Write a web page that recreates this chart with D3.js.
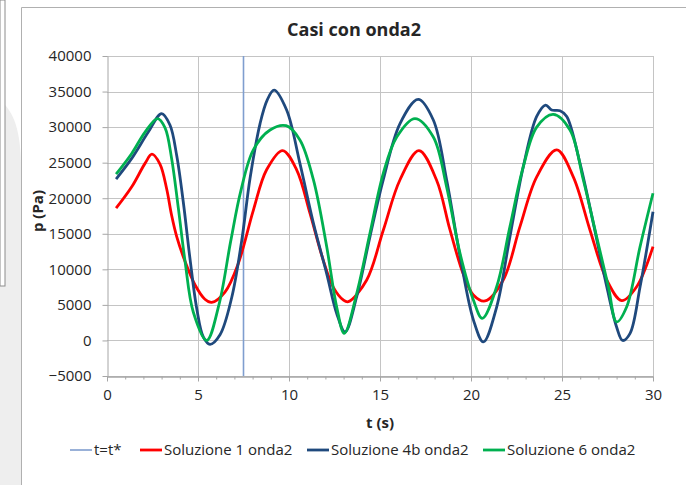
<!DOCTYPE html>
<html lang="it">

<head>
    <meta charset="UTF-8">
    <title>Casi con onda2</title>
    <script src="https://cdn.jsdelivr.net/npm/d3@7/dist/d3.min.js"></script>
    <style>
        body { margin: 0; background: #fff; }
        text { font-family: "Open Sans", "Liberation Sans", sans-serif; fill: #262626; }
    </style>
</head>

<body>
    <div id="container"></div>

    <script>
        const width = 686;
        const height = 485;
        const margin = { top: 56, left: 107, right: 33, bottom: 109 };

        // dati: t (s), p (Pa)
        const tStar = 7.5;

        const t1 = [0.5, 1.36, 2.09, 2.47, 2.91, 3.28, 3.55, 3.83, 4.29, 4.84, 5.38, 5.75, 6.48, 7.21, 8.04, 8.77, 9.65, 10.42, 11.15, 11.88, 12.43, 12.98, 13.26, 14.27, 15.18, 16.1, 17.14, 18.1, 18.85, 19.58, 20.13, 20.77, 21.77, 22.69, 23.61, 24.71, 25.62, 26.54, 27.46, 28.28, 29.1, 30.0];
        const p1 = [18600, 21600, 24900, 26200, 24800, 21300, 17600, 14600, 11100, 7800, 5800, 5350, 6800, 10800, 18300, 24000, 26700, 24000, 17900, 11300, 7500, 5700, 5450, 8500, 15500, 22600, 26700, 22600, 15500, 9300, 6400, 5550, 8500, 16000, 23000, 26800, 23000, 15500, 8500, 5600, 7550, 13200];

        const t4b = [0.5, 1.36, 2.27, 3.0, 3.46, 3.83, 4.19, 4.56, 4.93, 5.29, 5.66, 6.21, 6.85, 7.4, 7.86, 8.41, 8.8, 9.18, 9.87, 10.6, 11.34, 12.07, 12.62, 13.08, 13.72, 14.45, 15.18, 16.1, 17.1, 17.93, 18.66, 19.4, 20.13, 20.68, 21.41, 22.14, 22.87, 23.61, 24.1, 24.43, 24.89, 25.26, 25.99, 26.72, 27.46, 28.0, 28.33, 28.74, 29.29, 30.0];
        const p4b = [22700, 25600, 29300, 31900, 30300, 26000, 19500, 11500, 4500, 500, -550, 800, 6000, 14000, 22800, 30500, 33800, 35200, 32400, 24900, 16500, 9400, 3800, 1200, 6150, 14600, 22600, 30500, 33900, 31000, 22600, 11800, 2900, -200, 4700, 14600, 24400, 31500, 33100, 32400, 32300, 31500, 24900, 16500, 7550, 1900, 0, 1000, 7550, 18100];

        const t6 = [0.5, 1.36, 2.09, 2.78, 3.19, 3.55, 3.92, 4.29, 4.74, 5.48, 6.15, 6.8, 7.35, 8.04, 8.96, 9.84, 10.6, 11.34, 12.07, 12.62, 13.04, 13.72, 14.45, 15.18, 15.92, 16.92, 17.93, 18.66, 19.4, 20.13, 20.62, 21.41, 22.14, 22.87, 23.61, 24.52, 25.44, 26.17, 26.9, 27.55, 28.0, 28.55, 29.29, 30.0];
        const p6 = [23400, 26300, 29300, 31200, 29900, 25600, 18600, 11100, 4000, 0, 5000, 14000, 21000, 26800, 29600, 30200, 28200, 22600, 13200, 4700, 1000, 6600, 15100, 23500, 28600, 31200, 28600, 21600, 12200, 5700, 3100, 7550, 16000, 24400, 30000, 31800, 29600, 22600, 14600, 7550, 2600, 4700, 13200, 20700];

        const xTicks = [0, 5, 10, 15, 20, 25, 30];
        const yTicks = [-5000, 0, 5000, 10000, 15000, 20000, 25000, 30000, 35000, 40000];

        const series = [
            { name: 'Soluzione 1 onda2', t: t1, p: p1, color: '#ff0000' },
            { name: 'Soluzione 4b onda2', t: t4b, p: p4b, color: '#1f497d' },
            { name: 'Soluzione 6 onda2', t: t6, p: p6, color: '#00b050' }
        ];

        const x = d3.scaleLinear().domain([0, 30]).range([margin.left, width - margin.right]);
        const y = d3.scaleLinear().domain([-5000, 40000]).range([height - margin.bottom, margin.top]);

        const svg = d3.select('#container').append('svg')
            .attr('width', width)
            .attr('height', height);

        // sfondo della slide
        svg.append('path')
            .attr('d', 'M0,100 C14,112 21,130 21,170 L21,485 L0,485 Z')
            .attr('fill', '#eeeeee');
        svg.append('rect')
            .attr('x', 0).attr('y', 0).attr('width', 5).attr('height', 286)
            .attr('fill', '#fff').attr('stroke', '#8c8c8c');
        svg.append('path')
            .attr('d', 'M21.5,485 V7.5 H686')
            .attr('fill', 'none').attr('stroke', '#b0b0b0');
        svg.append('rect')
            .attr('x', 22).attr('y', 8).attr('width', 664).attr('height', 477)
            .attr('fill', '#fff');

        // titolo
        svg.append('text')
            .attr('x', 354).attr('y', 36)
            .attr('text-anchor', 'middle')
            .style('font-size', '18px').style('font-weight', 'bold')
            .text('Casi con onda2');

        // griglia
        const grid = svg.append('g').attr('stroke', '#c4c4c4').attr('stroke-width', 1);
        grid.selectAll('.h').data(yTicks).join('line')
            .attr('x1', x(0)).attr('x2', x(30))
            .attr('y1', d => Math.round(y(d)) + 0.5).attr('y2', d => Math.round(y(d)) + 0.5);
        grid.selectAll('.v').data(xTicks.slice(1)).join('line')
            .attr('x1', d => Math.round(x(d)) + 0.5).attr('x2', d => Math.round(x(d)) + 0.5)
            .attr('y1', y(40000)).attr('y2', y(-5000));

        function styleAxis(g) {
            g.select('.domain').attr('stroke', '#a6a6a6');
            g.selectAll('.tick line').attr('stroke', '#a6a6a6');
            g.selectAll('.tick text').style('font-size', '15px').attr('fill', '#262626')
                .style('font-family', '"Open Sans", sans-serif');
        }

        // asse x
        svg.append('g')
            .attr('transform', `translate(0, ${Math.round(y(-5000)) + 0.5})`)
            .call(d3.axisBottom(x).ticks(30).tickSize(3).tickSizeOuter(0).tickFormat(''))
            .call(styleAxis);
        svg.append('g')
            .attr('transform', `translate(0, ${Math.round(y(-5000)) + 0.5})`)
            .call(d3.axisBottom(x).tickValues(xTicks).tickSize(5).tickSizeOuter(0).tickPadding(8))
            .call(styleAxis);

        // asse y
        svg.append('g')
            .attr('transform', `translate(${Math.round(x(0)) + 0.5}, 0)`)
            .call(d3.axisLeft(y).tickValues(yTicks).tickSize(5).tickSizeOuter(0).tickPadding(11).tickFormat(d3.format('d')))
            .call(styleAxis);

        // titoli assi
        svg.append('text')
            .attr('x', 380).attr('y', 428)
            .attr('text-anchor', 'middle')
            .style('font-size', '15px').style('font-weight', 'bold')
            .text('t (s)');
        svg.append('text')
            .attr('transform', 'translate(43, 211) rotate(-90)')
            .attr('text-anchor', 'middle')
            .style('font-size', '15px').style('font-weight', 'bold')
            .text('p (Pa)');

        // linea t = t*
        svg.append('line')
            .attr('x1', x(tStar)).attr('x2', x(tStar))
            .attr('y1', y(40000)).attr('y2', y(-5000))
            .attr('stroke', '#7f9ecf').attr('stroke-width', 1.6);

        // curve
        const line = d3.line()
            .x(d => x(d[0]))
            .y(d => y(d[1]))
            .curve(d3.curveCatmullRom.alpha(0.5));

        svg.append('g').selectAll('path').data(series).join('path')
            .attr('fill', 'none')
            .attr('stroke', d => d.color)
            .attr('stroke-width', 2.8)
            .attr('stroke-linejoin', 'round')
            .attr('d', d => line(d.t.map((t, i) => [t, d.p[i]])));

        // legenda
        const legendItems = [
            { name: 't=t*', color: '#7f9ecf', w: 1.6, x0: 70 },
            { name: series[0].name, color: series[0].color, w: 2.8, x0: 140 },
            { name: series[1].name, color: series[1].color, w: 2.8, x0: 307 },
            { name: series[2].name, color: series[2].color, w: 2.8, x0: 483 }
        ];
        const legend = svg.append('g');
        legend.selectAll('line').data(legendItems).join('line')
            .attr('x1', d => d.x0).attr('x2', d => d.x0 + 22)
            .attr('y1', 450).attr('y2', 450)
            .attr('stroke', d => d.color).attr('stroke-width', d => d.w);
        legend.selectAll('text').data(legendItems).join('text')
            .attr('x', d => d.x0 + 24).attr('y', 455)
            .style('font-size', '15px')
            .text(d => d.name);
    </script>
</body>

</html>
